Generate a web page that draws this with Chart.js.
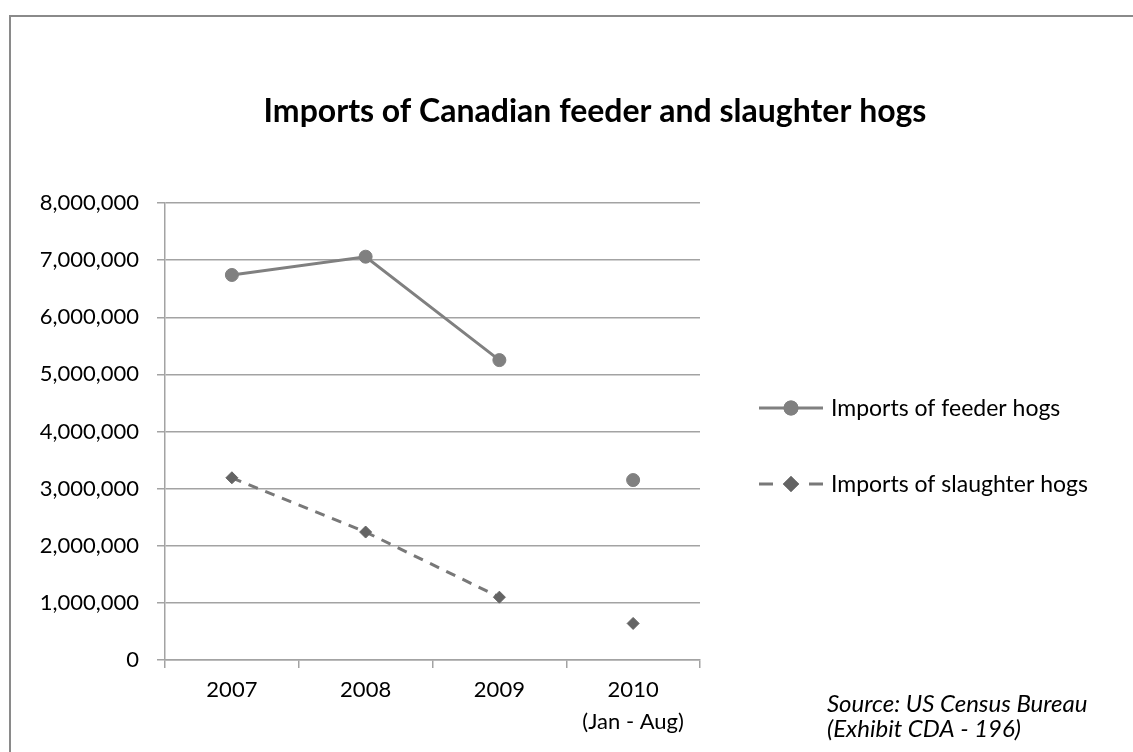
<!DOCTYPE html>
<html>
<head>
<meta charset="utf-8">
<script src="https://cdn.jsdelivr.net/npm/chart.js@4.4.1/dist/chart.umd.min.js"></script>
<style>
  html, body { margin: 0; padding: 0; background: #fff; }
  #wrap { position: relative; width: 1133px; height: 752px; }
</style>
</head>
<body>
<div id="wrap"><canvas id="hogChart" width="1133" height="752"></canvas></div>
<script>
// yearly import counts (head)
const years = ["2007", "2008", "2009", ["2010", "(Jan - Aug)"]];
const feederHogs = [6740000, 7060000, 5250000, 3150000];
const slaughterHogs = [3190000, 2240000, 1100000, 640000];
const yTicks = [0, 1000000, 2000000, 3000000, 4000000, 5000000, 6000000, 7000000, 8000000];

const chartTitle = "Imports of Canadian feeder and slaughter hogs";
const sourceLines = ["Source: US Census Bureau", "(Exhibit CDA - 196)"];

const FONT = "Lato, 'Open Sans', sans-serif";
const GRID = "#a3a3a3";

// 2010 is a partial year, keep it off the line
const partialYear = (ctx) => ctx.p1DataIndex === 3 ? "rgba(0,0,0,0)" : undefined;

// page frame, title, legend and source note
const decorations = {
  id: "decorations",
  beforeDraw(chart) {
    const ctx = chart.ctx;
    ctx.save();
    ctx.fillStyle = "#fff";
    ctx.fillRect(0, 0, chart.width, chart.height);
    ctx.strokeStyle = "#8a8a8a";
    ctx.lineWidth = 2;
    ctx.beginPath();
    ctx.moveTo(10, chart.height);
    ctx.lineTo(10, 16);
    ctx.lineTo(chart.width, 16);
    ctx.stroke();
    ctx.restore();
  },
  afterDraw(chart) {
    const ctx = chart.ctx;
    ctx.save();
    ctx.fillStyle = "#000";
    ctx.textBaseline = "middle";

    ctx.textAlign = "center";
    ctx.font = "bold 32px " + FONT;
    ctx.fillText(chartTitle, 595, 112);

    // legend
    ctx.textAlign = "left";
    ctx.font = "23px " + FONT;
    const rows = [408, 484];
    chart.data.datasets.forEach((ds, i) => {
      const y = rows[i];
      ctx.strokeStyle = ds.borderColor;
      ctx.lineWidth = 3;
      ctx.beginPath();
      if (ds.borderDash) {
        ctx.moveTo(759, y); ctx.lineTo(773, y);
        ctx.moveTo(809, y); ctx.lineTo(823, y);
      } else {
        ctx.moveTo(759, y); ctx.lineTo(823, y);
      }
      ctx.stroke();
      Chart.helpers.drawPoint(ctx, {
        pointStyle: ds.pointStyle,
        radius: 6,
        borderWidth: 1,
        rotation: 0
      }, 791, y);
      ctx.fillStyle = ds.pointBackgroundColor;
      ctx.strokeStyle = ds.pointBorderColor;
      ctx.fill();
      ctx.stroke();
      ctx.fillStyle = "#000";
      ctx.fillText(ds.label, 831, y + 1);
    });

    ctx.font = "italic 24px " + FONT;
    ctx.fillText(sourceLines[0], 827, 704);
    ctx.fillText(sourceLines[1], 827, 729);
    ctx.restore();
  }
};

new Chart(document.getElementById("hogChart"), {
  type: "line",
  data: {
    labels: years,
    datasets: [
      {
        label: "Imports of feeder hogs",
        data: feederHogs,
        borderColor: "#808080",
        borderWidth: 3,
        pointStyle: "circle",
        pointRadius: 6.5,
        pointBackgroundColor: "#808080",
        pointBorderColor: "#808080",
        pointBorderWidth: 1,
        segment: { borderColor: partialYear }
      },
      {
        label: "Imports of slaughter hogs",
        data: slaughterHogs,
        borderColor: "#787878",
        borderWidth: 3,
        borderDash: [10, 8],
        pointStyle: "rectRot",
        pointRadius: 6,
        pointBackgroundColor: "#646464",
        pointBorderColor: "#646464",
        pointBorderWidth: 1,
        segment: { borderColor: partialYear }
      }
    ]
  },
  options: {
    responsive: false,
    animation: false,
    layout: { padding: { top: 203, left: 20, right: 433, bottom: 0 } },
    plugins: {
      legend: { display: false },
      title: { display: false },
      tooltip: { enabled: false }
    },
    scales: {
      x: {
        offset: true,
        afterFit: (scale) => { scale.height = 92; },
        grid: { offset: true, drawOnChartArea: false, tickLength: 8, color: GRID, lineWidth: 1.5 },
        border: { color: GRID, width: 1.5 },
        ticks: {
          color: "#000",
          padding: 6,
          maxRotation: 0,
          font: { family: FONT, size: 22, lineHeight: 1.45 }
        }
      },
      y: {
        min: 0,
        max: 8000000,
        afterFit: (scale) => { scale.width = 145; },
        afterBuildTicks: (scale) => { scale.ticks = yTicks.map(v => ({ value: v })); },
        grid: { color: GRID, lineWidth: 1.5, tickLength: 8 },
        border: { color: GRID, width: 1.5 },
        ticks: {
          color: "#000",
          padding: 18,
          font: { family: FONT, size: 22 },
          callback: (val) => Number(val).toLocaleString("en-US")
        }
      }
    }
  },
  plugins: [decorations]
});
</script>
</body>
</html>
